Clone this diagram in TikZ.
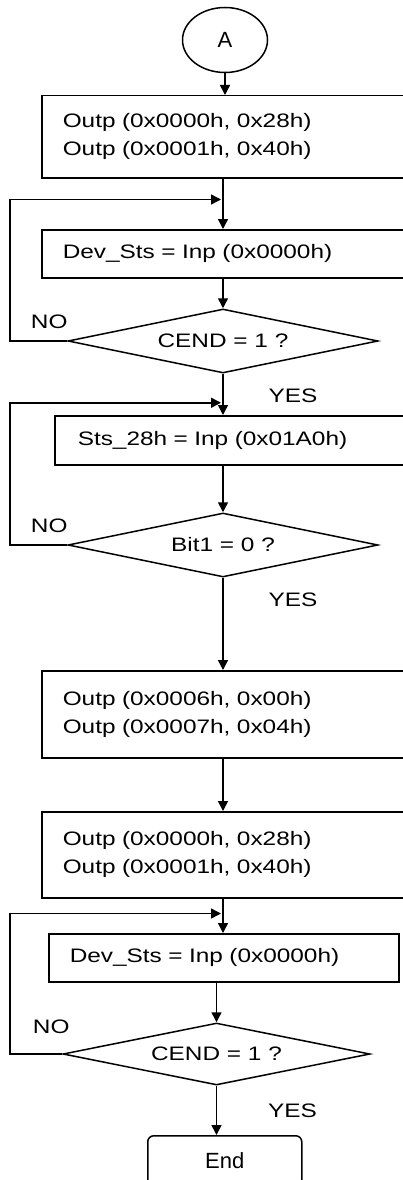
\documentclass[tikz,border=0pt]{standalone}
\usepackage{fontspec}
\setmainfont{Liberation Sans}[FakeStretch=1.25]
\newfontfamily\termfamily{Liberation Sans}
\usetikzlibrary{shapes.geometric,positioning,arrows.meta}
\newcommand\chartfont{\fontsize{19.5pt}{28pt}\selectfont}
\newcommand\termfont{\termfamily\fontsize{22pt}{26pt}\selectfont}

\begin{document}
\begin{tikzpicture}[
  x=1pt, y=-1pt,
  >={Triangle[length=10pt,width=10pt]},
  line width=1.5pt,
  every node/.style={font=\chartfont},
  connector/.style={draw,ellipse,minimum width=85pt,minimum height=65pt,inner sep=0pt,font=\termfont},
  procbox/.style={draw,anchor=north west,inner xsep=21pt,inner ysep=0pt,align=left},
  decision/.style={draw,diamond,aspect=4.8,inner sep=0pt,minimum width=310pt,minimum height=64pt},
  terminal/.style={draw,rounded corners=6pt,anchor=north west,minimum width=154pt,minimum height=50pt,font=\termfont},
  flow/.style={->},
  lbl/.style={inner sep=0pt}
]
  \useasboundingbox (0,0) rectangle (403,1180);
  \clip (0,0) rectangle (403,1180);
  \coordinate (axis) at (223,0);
  \coordinate (rail) at (10,0);

  % blocks
  \node[connector] (start) at (225,40) {A};
  \node[procbox,text width=326pt,minimum height=82pt] (init1) at (41,95)
    {Outp (0x0000h, 0x28h)\\Outp (0x0001h, 0x40h)};
  \node[procbox,text width=326pt,minimum height=48pt] (read1) at (41,229)
    {Dev\_Sts = Inp (0x0000h)};
  \node[decision] (cend1) at (223,341) {CEND = 1 ?};
  \node[procbox,inner xsep=23pt,text width=310pt,minimum height=49pt] (read28) at (54,415)
    {Sts\_28h = Inp (0x01A0h)};
  \node[decision] (bit1) at (223,545) {Bit1 = 0 ?};
  \node[procbox,text width=326pt,minimum height=87pt] (init2) at (41,670)
    {Outp (0x0006h, 0x00h)\\Outp (0x0007h, 0x04h)};
  \node[procbox,text width=326pt,minimum height=86pt] (init3) at (41,811)
    {Outp (0x0000h, 0x28h)\\Outp (0x0001h, 0x40h)};
  \node[procbox,text width=308pt,minimum height=48pt] (read2) at (48,933)
    {Dev\_Sts = Inp (0x0000h)};
  \node[decision,minimum width=307pt,minimum height=62pt] (cend2) at (216.5,1054) {CEND = 1 ?};
  \node[terminal] (stop) at (147,1135) {End};

  % loop joints
  \coordinate (j1) at ([yshift=-21pt]init1.south -| axis);
  \coordinate (j2) at ([yshift=-29pt]cend1.south);
  \coordinate (j3) at ([yshift=-15pt]init3.south -| axis);

  % labels
  \node[lbl] (no1) at ([xshift=-18pt,yshift=19pt]cend1.west) {NO};
  \node[lbl] (yes1) at ([xshift=70pt,yshift=-22pt]cend1.south) {YES};
  \node[lbl] (no2) at ([xshift=-18pt,yshift=19pt]bit1.west) {NO};
  \node[lbl] (yes2) at ([xshift=70pt,yshift=-22pt]bit1.south) {YES};
  \node[lbl] (no3) at ([xshift=-11pt,yshift=27pt]cend2.west) {NO};
  \node[lbl] (yes3) at ([xshift=76pt,yshift=-25pt]cend2.south) {YES};

  % connectors
  \draw[flow] (start.south) -- (start.south |- init1.north);
  \draw[flow] (init1.south -| axis) -- (read1.north -| axis);
  \draw[flow] (read1.south -| axis) -- (cend1.north);
  \draw[flow,shorten >=2pt] (cend1.west) -| (rail |- j1) -- (j1);
  \draw[flow] (cend1.south) -- (cend1.south |- read28.north);
  \draw[flow] (read28.south -| axis) -- (bit1.north);
  \draw[flow,shorten >=2pt] (bit1.west) -| (rail |- j2) -- (j2);
  \draw[flow] (bit1.south) -- (bit1.south |- init2.north);
  \draw[flow] (init2.south -| axis) -- (init3.north -| axis);
  \draw[flow] (init3.south -| axis) -- (read2.north -| axis);
  \draw[flow] (read2.south -| cend2) -- (cend2.north);
  \draw[flow,shorten >=2pt] (cend2.west) -| (rail |- j3) -- (j3);
  \draw[flow] (cend2.south) -- (cend2.south |- stop.north);
\end{tikzpicture}
\end{document}
